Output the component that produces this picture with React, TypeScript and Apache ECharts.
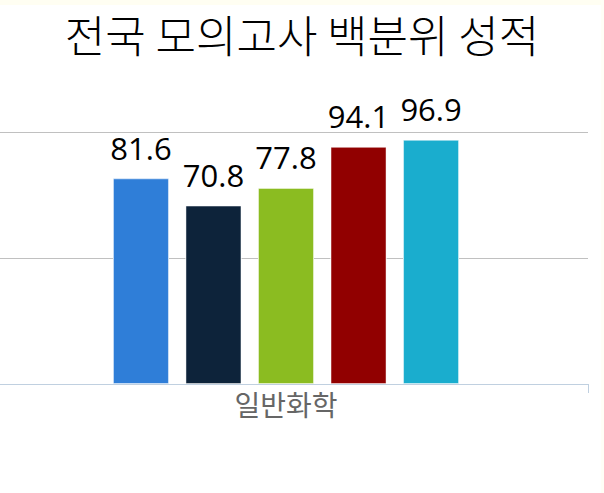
import React, { useEffect, useRef } from "react";
import * as echarts from "echarts";

const TITLE = "전국 모의고사 백분위 성적";
const categories = ["일반화학"];
const seriesNames = ["A", "B", "C", "D", "E"];
const seriesValues = [[81.6], [70.8], [77.8], [94.1], [96.9]];
const seriesColors = ["#2f7ed8", "#0d233a", "#8bbc21", "#910000", "#1aadce"];
const yMin = 0;
const yMax = 100;
const yInterval = 50;

export default function App() {
  const ref = useRef<HTMLDivElement>(null);
  useEffect(() => {
    if (!ref.current) return;
    const chart = echarts.init(ref.current, null, { renderer: "svg" });
    const barWidth = 56;
    const barGap = "29.5%";
    const halo = seriesValues.map((vals, i) => ({
      name: seriesNames[i] + "-halo",
      type: "bar",
      xAxisIndex: 1,
      data: vals,
      barWidth,
      barGap,
      z: 1,
      silent: true,
      itemStyle: { color: "#ffffff", borderColor: "#ffffff", borderWidth: 6 },
    }));
    const bars = seriesValues.map((vals, i) => ({
      name: seriesNames[i],
      type: "bar",
      xAxisIndex: 0,
      data: vals,
      barWidth,
      barGap,
      z: 2,
      itemStyle: {
        color: seriesColors[i],
        borderColor: "rgba(255,255,255,0.45)",
        borderWidth: 1,
      },
      label: {
        show: true,
        position: "top",
        distance: 15,
        fontSize: 31,
        color: "#000000",
        fontFamily: "'Open Sans', 'Noto Sans', sans-serif",
      },
    }));
    chart.setOption({
      animation: false,
      backgroundColor: "#ffffff",
      title: {
        text: TITLE,
        left: "center",
        top: 7,
        textStyle: {
          fontSize: 44,
          fontWeight: 300,
          color: "#000000",
          fontFamily: "'Noto Sans CJK KR', sans-serif",
        },
      },
      graphic: [
        { type: "rect", left: 0, top: 0, shape: { width: 604, height: 5 }, style: { fill: "#fffef2" }, silent: true },
        { type: "rect", right: 0, top: 0, shape: { width: 3, height: 493 }, style: { fill: "#fffef6" }, silent: true },
      ],
      grid: {
        left: -16,
        right: 16,
        top: 132,
        bottom: 109,
        containLabel: false,
        outerBoundsMode: "none",
      },
      xAxis: [
        {
          type: "category",
          data: categories,
          z: 3,
          axisLine: { show: true, lineStyle: { color: "#c0d0e0", width: 1 } },
          axisTick: { show: true, length: 9, lineStyle: { color: "#c0d0e0" } },
          axisLabel: {
            fontSize: 28,
            color: "#666666",
            margin: 6,
            fontFamily: "'Noto Sans CJK KR', sans-serif",
          },
        },
        {
          type: "category",
          data: categories,
          show: false,
        },
      ],
      yAxis: {
        type: "value",
        min: yMin,
        max: yMax,
        interval: yInterval,
        axisLabel: { show: false },
        axisLine: { show: false },
        axisTick: { show: false },
        splitLine: { show: true, lineStyle: { color: "#c0c0c0", width: 1 } },
      },
      series: [...halo, ...bars],
    });
    return () => chart.dispose();
  }, []);
  return (
    <div
      ref={ref}
      style={{ position: "fixed", left: 0, top: 0, width: 604, height: 493 }}
    />
  );
}
